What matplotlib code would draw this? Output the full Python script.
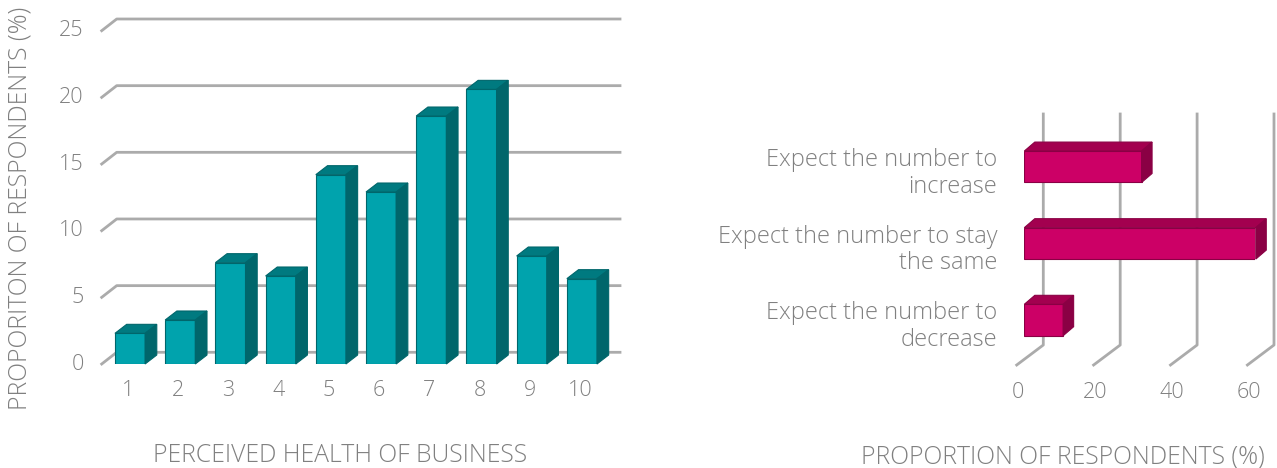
import numpy as np
import matplotlib.pyplot as plt
from matplotlib.patches import Polygon
from matplotlib import transforms

# left chart: perceived health of business (score 1-10)
health_scores = ['1', '2', '3', '4', '5', '6', '7', '8', '9', '10']
health_pct = [2.3, 3.3, 7.6, 6.6, 14.2, 12.9, 18.6, 20.6, 8.1, 6.4]
health_ticks = [0, 5, 10, 15, 20, 25]

# right chart: expected change in number (bottom to top)
outlook_labels = ['Expect the number to\ndecrease',
                  'Expect the number to stay\nthe same',
                  'Expect the number to\nincrease']
outlook_pct = [10.1, 60.2, 30.5]
outlook_ticks = [0, 20, 40, 60]

W, H = 1277, 468
plt.rcParams['font.family'] = ['Open Sans', 'DejaVu Sans']
plt.rcParams['font.weight'] = 'light'
fig = plt.figure(figsize=(W / 100, H / 100), dpi=100)

txt_col = '#808080'
grid_col = '#ababab'
teal_front, teal_top, teal_side = '#00a3ad', '#007a80', '#00666b'
mag_front, mag_top, mag_side = '#cc0066', '#a3004f', '#8a0044'
fs_tick, fs_cat, fs_title = 15.5, 17, 17.8


def px_rect(x0, y0, x1, y1):
    # pixel box (origin top-left) -> figure fraction
    return [x0 / W, 1 - y1 / H, (x1 - x0) / W, (y1 - y0) / H]


def shift(ax, pts, dx, dy):
    # move data points by (dx, dy) pixels, return data coords
    d = ax.transData.transform(pts) + np.array([dx, dy])
    return ax.transData.inverted().transform(d)


def off(ax, dx, dy):
    return transforms.offset_copy(ax.transData, fig=fig, x=dx, y=dy, units='dots')


# =======================
# LEFT CHART
# =======================
ax1 = fig.add_axes(px_rect(101.7, 30.7, 605, 364))
ax1.set_xlim(0.436, 10.46)
ax1.set_ylim(0, 25)
ax1.axis('off')
x0, x1 = ax1.get_xlim()
gdx, gdy = 15, 11.7     # floor depth
bdx, bdy = 11.7, 9      # bar depth

for v in health_ticks:
    pts = np.array([[x0, v], [x0, v], [x1, v]])
    back = shift(ax1, pts[1:], gdx, gdy)
    line = np.vstack([pts[:1], back])
    ax1.plot(line[:, 0], line[:, 1], color=grid_col, lw=2, clip_on=False, zorder=1)
    ax1.text(x0, v, str(v), transform=off(ax1, -18, 0), ha='right', va='center',
             color=txt_col, fontsize=fs_tick)

xs = np.arange(1, len(health_pct) + 1)
bw = 0.6
ax1.bar(xs, health_pct, width=bw, color=teal_front, edgecolor=teal_side, lw=0.8, zorder=3)
for xi, v in zip(xs, health_pct):
    l, r = xi - bw / 2, xi + bw / 2
    top = np.array([[l, v], [r, v]])
    top = np.vstack([top, shift(ax1, top[::-1], bdx, bdy)])
    side = np.array([[r, 0], [r, v]])
    side = np.vstack([side, shift(ax1, side[::-1], bdx, bdy)])
    ax1.add_patch(Polygon(top, closed=True, fc=teal_top, ec=teal_side, lw=0.8, zorder=3, clip_on=False))
    ax1.add_patch(Polygon(side, closed=True, fc=teal_side, ec=teal_side, lw=0.8, zorder=3, clip_on=False))
    ax1.text(xi, 0, health_scores[xi - 1], transform=off(ax1, -2, -27), ha='center', va='center',
             color=txt_col, fontsize=fs_tick)

fig.text(340 / W, 1 - 455 / H, 'PERCEIVED HEALTH OF BUSINESS', ha='center', va='center',
         color=txt_col, fontsize=fs_title)
fig.text(20 / W, 1 - 208 / H, 'PROPORITON OF RESPONDENTS (%)', ha='center', va='center',
         rotation=90, color=txt_col, fontsize=fs_title)

# =======================
# RIGHT CHART
# =======================
ax2 = fig.add_axes(px_rect(1024.3, 120.8, 1255, 366))
ax2.set_xlim(0, 60)
ax2.set_ylim(-0.6, 2.6)
ax2.axis('off')
yb = ax2.get_ylim()[0]

for v in outlook_ticks:
    base = np.array([[v, yb]])
    pts = np.vstack([shift(ax2, base, -7.6, 1), shift(ax2, base, 19, 21), shift(ax2, base, 19, 252)])
    ax2.plot(pts[:, 0], pts[:, 1], color=grid_col, lw=2, clip_on=False, zorder=1)
    ax2.text(v, yb, str(v), transform=off(ax2, -6.5, -26), ha='center', va='center',
             color=txt_col, fontsize=fs_tick)

ys = np.arange(len(outlook_pct))
bh = 0.41
rdx, rdy = 10.5, 9
ax2.barh(ys, outlook_pct, height=bh, color=mag_front, edgecolor=mag_side, lw=0.8, zorder=3)
for yi, v in zip(ys, outlook_pct):
    b, t = yi - bh / 2, yi + bh / 2
    top = np.array([[0, t], [v, t]])
    top = np.vstack([top, shift(ax2, top[::-1], rdx, rdy)])
    side = np.array([[v, b], [v, t]])
    side = np.vstack([side, shift(ax2, side[::-1], rdx, rdy)])
    ax2.add_patch(Polygon(top, closed=True, fc=mag_top, ec=mag_side, lw=0.8, zorder=3, clip_on=False))
    ax2.add_patch(Polygon(side, closed=True, fc=mag_side, ec=mag_side, lw=0.8, zorder=3, clip_on=False))
    ax2.text(0, yi, outlook_labels[yi], transform=off(ax2, -27, -6.5), ha='right', va='center',
             multialignment='right', linespacing=1.15, color=txt_col, fontsize=fs_cat)

fig.text(1063 / W, 1 - 457 / H, 'PROPORTION OF RESPONDENTS (%)', ha='center', va='center',
         color=txt_col, fontsize=fs_title)

fig.savefig('out.png', dpi=100)
